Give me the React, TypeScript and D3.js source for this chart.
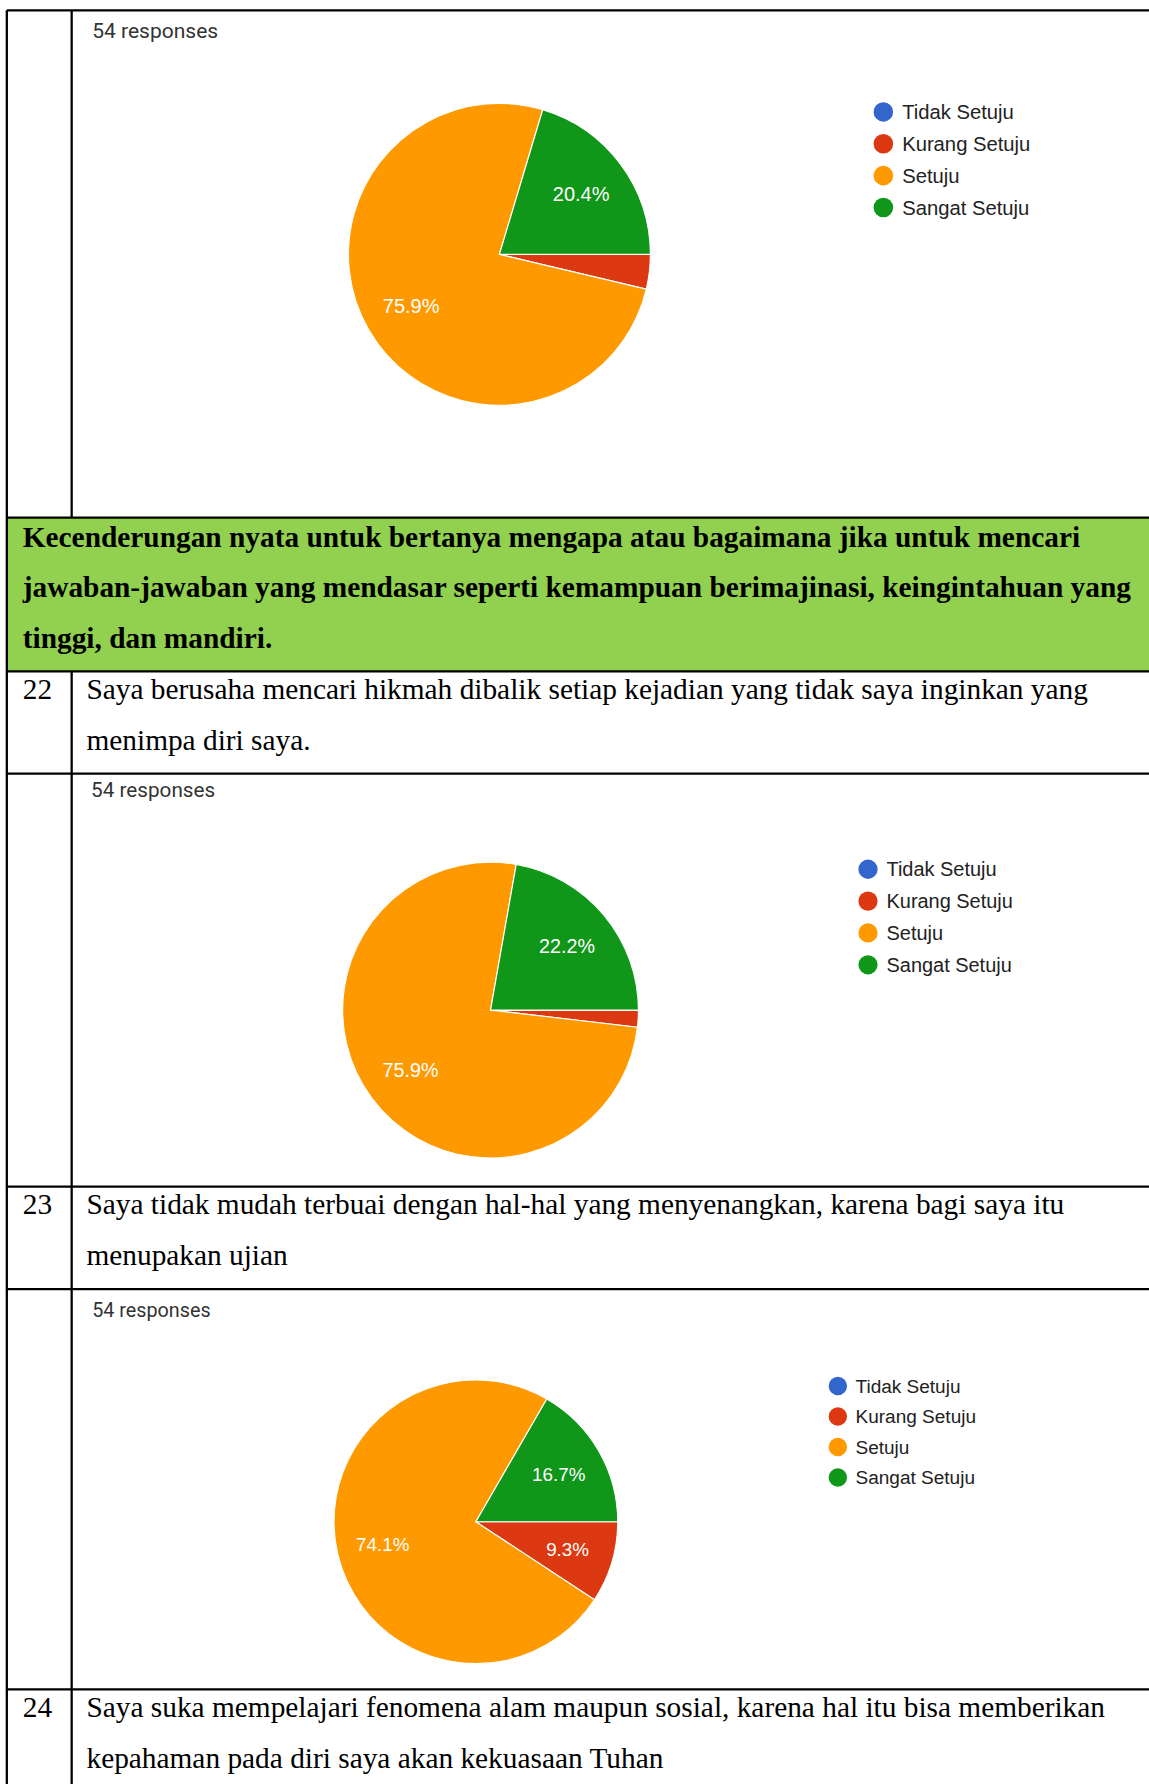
import * as d3 from 'd3';

// legend categories shared by every chart
const categories = ['Tidak Setuju', 'Kurang Setuju', 'Setuju', 'Sangat Setuju'];
const sliceColors = ['#3366cc', '#dc3912', '#ff9900', '#109618'];

// counts per category (54 responses each)
const item21Counts = [0, 2, 41, 11];
const item22Counts = [0, 1, 41, 12];
const item23Counts = [0, 5, 40, 9];
const responseTotals = [54, 54, 54];

const headerLines = [
  'Kecenderungan nyata untuk bertanya mengapa atau bagaimana jika untuk mencari',
  'jawaban-jawaban yang mendasar seperti kemampuan berimajinasi, keingintahuan yang',
  'tinggi, dan mandiri.',
];

const itemNumbers = ['22', '23', '24'];
const itemLines = [
  ['Saya berusaha mencari hikmah dibalik setiap kejadian yang tidak saya inginkan yang', 'menimpa diri saya.'],
  ['Saya tidak mudah terbuai dengan hal-hal yang menyenangkan, karena bagi saya itu', 'menupakan ujian'],
  ['Saya suka mempelajari fenomena alam maupun sosial, karena hal itu bisa memberikan', 'kepahaman pada diri saya akan kekuasaan Tuhan'],
];

// layout (in 1010x1568 view units, scaled up to the page)
const VW = 1010;
const VH = 1568;
const left = 6;
const colX = 63;
const right = 1014;
const rowLines = [9, 455, 590, 680, 1043, 1133, 1485];
const serifSize = 25.8;

const charts = [
  { counts: item21Counts, cx: 439, cy: 223.5, r: 132.7, lx: 776.5, ly: 98.3, step: 28, s: 1, rx: 81, ry: 33.5 },
  { counts: item22Counts, cx: 431.2, cy: 887.8, r: 130, lx: 763, ly: 764, step: 28, s: 0.985, rx: 80, ry: 700.5 },
  { counts: item23Counts, cx: 418.3, cy: 1337.6, r: 124.7, lx: 736.5, ly: 1218.3, step: 26.8, s: 0.94, rx: 81, ry: 1157.5 },
];

const itemRows = [
  { y1: 614, y2: 659 },
  { y1: 1067, y2: 1112 },
  { y1: 1509, y2: 1554 },
];

const serif = '"Liberation Serif", "Times New Roman", serif';
const sans = '"Liberation Sans", Arial, sans-serif';

function PieChart({ chart, total }) {
  const pie = d3
    .pie<number>()
    .sort(null)
    .value((d) => d)
    .startAngle(Math.PI / 2)
    .endAngle(Math.PI / 2 + Math.PI * 2);
  const arcs = pie(chart.counts);
  const arc = d3.arc<d3.PieArcDatum<number>>().innerRadius(0).outerRadius(chart.r);
  const labelArc = d3
    .arc<d3.PieArcDatum<number>>()
    .innerRadius(chart.r * 0.675)
    .outerRadius(chart.r * 0.675);
  const sum = d3.sum(chart.counts);
  const s = chart.s;

  return (
    <g>
      <text x={chart.rx} y={chart.ry} fontFamily="Roboto, sans-serif" fontSize={18.5 * s} fill="#333">
        {total} responses
      </text>
      <g transform={`translate(${chart.cx},${chart.cy})`}>
        {arcs.map((a, i) =>
          a.value > 0 ? (
            <path key={i} d={arc(a) || ''} fill={sliceColors[i]} stroke="#fff" strokeWidth={1} />
          ) : null
        )}
        {arcs.map((a, i) => {
          const pct = (a.value / sum) * 100;
          if (pct < 5) return null;
          const [x, y] = labelArc.centroid(a);
          return (
            <text
              key={'l' + i}
              x={x}
              y={y}
              dy="0.36em"
              textAnchor="middle"
              fontFamily={sans}
              fontSize={17.6 * s}
              fill="#fff"
            >
              {pct.toFixed(1)}%
            </text>
          );
        })}
      </g>
      {categories.map((c, i) => (
        <g key={c} transform={`translate(${chart.lx},${chart.ly + i * chart.step})`}>
          <circle r={8.6 * s} fill={sliceColors[i]} />
          <text x={16.5 * s} dy="0.36em" fontFamily={sans} fontSize={17.8 * s} fill="#222">
            {c}
          </text>
        </g>
      ))}
    </g>
  );
}

export default function App() {
  return (
    <div style={{ position: 'absolute', left: 0, top: 0, background: '#fff' }}>
      <svg width={1149} height={1784} viewBox={`0 0 ${VW} ${VH}`} style={{ display: 'block' }}>
        <rect x={0} y={0} width={VW} height={VH} fill="#fff" />
        {/* green header row */}
        <rect x={left} y={rowLines[1]} width={right - left} height={rowLines[2] - rowLines[1]} fill="#92d050" />

        {charts.map((c, i) => (
          <PieChart key={i} chart={c} total={responseTotals[i]} />
        ))}

        {headerLines.map((t, i) => (
          <text key={t} x={20} y={480.5 + i * 44.3} fontFamily={serif} fontSize={serifSize} fontWeight="bold" fill="#000">
            {t}
          </text>
        ))}

        {itemRows.map((r, i) => (
          <g key={i} fontFamily={serif} fontSize={serifSize} fill="#000">
            <text x={20} y={r.y1}>{itemNumbers[i]}</text>
            <text x={76} y={r.y1}>{itemLines[i][0]}</text>
            <text x={76} y={r.y2}>{itemLines[i][1]}</text>
          </g>
        ))}

        {/* table grid */}
        <g stroke="#000" strokeWidth={2} fill="none">
          {rowLines.map((y) => (
            <line key={y} x1={left} x2={right} y1={y} y2={y} />
          ))}
          <line x1={left} x2={left} y1={rowLines[0]} y2={VH} />
          <line x1={colX} x2={colX} y1={rowLines[0]} y2={rowLines[1]} />
          <line x1={colX} x2={colX} y1={rowLines[2]} y2={VH} />
        </g>
      </svg>
    </div>
  );
}
